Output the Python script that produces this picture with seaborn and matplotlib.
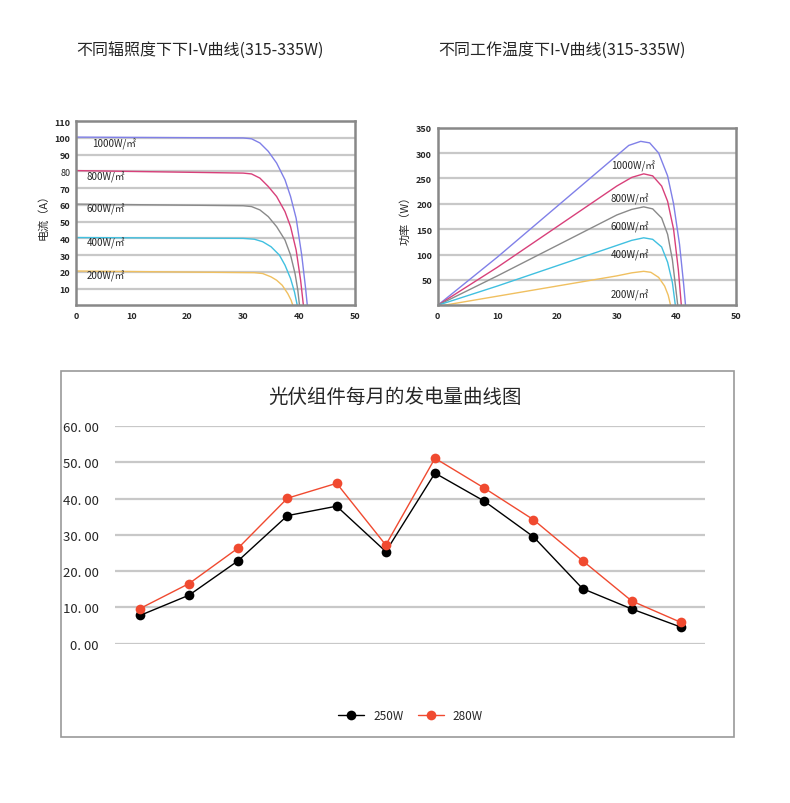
import numpy as np
import pandas as pd
import matplotlib
matplotlib.use("Agg")
import matplotlib.pyplot as plt
import seaborn as sns
from matplotlib.patches import Rectangle

sns.set_style("white")
plt.rcParams['font.family'] = ['Noto Sans CJK SC', 'DejaVu Sans']

# I-V curves, points (voltage, current)
iv_1000_v = [0, 30, 31.5, 33, 34.5, 36, 37.5, 38.5, 39.5, 40.5, 41.2, 41.5]
iv_1000_i = [100.5, 100, 99.5, 97, 92, 85, 75, 65, 52, 30, 10, 0]
iv_800_v = [0, 30, 31.5, 33, 34.5, 36, 37.5, 38.5, 39.5, 40.3, 40.8]
iv_800_i = [80.5, 79, 78.5, 76, 71, 65, 56, 47, 33, 15, 0]
iv_600_v = [0, 30, 31.5, 33, 34.5, 36, 37.5, 38.5, 39.3, 39.8, 40.1]
iv_600_i = [60.5, 59.5, 59, 57, 53, 47, 39, 30, 19, 9, 0]
iv_400_v = [0, 30, 32, 33.5, 35, 36.5, 37.5, 38.5, 39.2, 39.7]
iv_400_i = [40.5, 40, 39.5, 38, 35, 30, 24, 16, 8, 0]
iv_200_v = [0, 32, 33.5, 35, 36, 37, 38, 38.6, 38.9]
iv_200_i = [20.5, 19.5, 19, 17, 15, 12, 7, 3, 0]

# P-V curves (voltage, power)
pv_1000_v = [0, 10, 20, 30, 32, 34, 35.5, 37, 38.5, 39.5, 40.5, 41.2, 41.5]
pv_1000_p = [0, 95, 195, 295, 315, 323, 320, 300, 255, 200, 120, 40, 0]
pv_800_v = [0, 10, 20, 30, 32.5, 34.5, 36, 37.5, 38.5, 39.5, 40.3, 40.8]
pv_800_p = [0, 75, 155, 235, 252, 259, 255, 235, 205, 150, 70, 0]
pv_600_v = [0, 10, 20, 30, 32.5, 34.5, 36, 37.5, 38.5, 39.3, 39.8, 40.2]
pv_600_p = [0, 58, 118, 178, 189, 194, 190, 172, 140, 90, 40, 0]
pv_400_v = [0, 10, 20, 30, 32.5, 34.5, 36, 37.5, 38.5, 39.3, 39.8]
pv_400_p = [0, 38, 78, 118, 128, 133, 130, 115, 85, 45, 0]
pv_200_v = [1, 10, 20, 30, 32.5, 34.5, 35.7, 37, 38, 38.6, 39]
pv_200_p = [0, 18, 38, 58, 64, 67, 65, 55, 38, 20, 0]

irr_labels = ["1000W/㎡", "800W/㎡", "600W/㎡", "400W/㎡", "200W/㎡"]
curve_colors = ["#8080e8", "#d8407a", "#8a8a8a", "#40c0e0", "#f0c060"]

months = list(range(1, 13))
gen_250 = [7.8, 13.4, 22.9, 35.3, 37.9, 25.4, 47.0, 39.3, 29.5, 15.2, 9.6, 4.6]
gen_280 = [9.7, 16.6, 26.4, 40.1, 44.2, 27.2, 51.1, 42.9, 34.2, 22.9, 11.8, 5.9]

fig = plt.figure(figsize=(7.9, 8.04), dpi=100)


def style_small(ax, ymax, ystep):
    for s in ax.spines.values():
        s.set_color("#888888")
        s.set_linewidth(1.8)
    ax.set_xlim(0, 50)
    ax.set_ylim(0, ymax)
    ax.set_xticks([0, 10, 20, 30, 40, 50])
    ax.tick_params(labelsize=6.5, length=0, pad=4)
    for t in ax.get_xticklabels() + ax.get_yticklabels():
        t.set_fontweight("bold")
    for y in np.arange(ystep, ymax, ystep):
        ax.axhline(y, color="#c8c8c8", lw=1.6, zorder=0)
    ax.set_xlabel("")


# --- I-V chart
ax1 = fig.add_axes([0.096, 0.619, 0.353, 0.229])
iv = [(iv_1000_v, iv_1000_i), (iv_800_v, iv_800_i), (iv_600_v, iv_600_i),
      (iv_400_v, iv_400_i), (iv_200_v, iv_200_i)]
for (v, i), c in zip(iv, curve_colors):
    sns.lineplot(x=v, y=i, ax=ax1, color=c, lw=1, sort=False)
style_small(ax1, 110, 10)
ax1.set_yticks(list(range(10, 111, 10)))
ax1.set_ylabel("电流（A）", fontsize=8, labelpad=4)
for lab, y in zip(irr_labels, [95, 75, 56, 36, 16]):
    ax1.text(3 if lab.startswith("1000") else 2, y, lab, fontsize=7)
fig.text(0.096, 0.937, "不同辐照度下下I-V曲线(315-335W)", fontsize=11.5, va="center")

# --- P-V chart
ax2 = fig.add_axes([0.554, 0.619, 0.378, 0.221])
pv = [(pv_1000_v, pv_1000_p), (pv_800_v, pv_800_p), (pv_600_v, pv_600_p),
      (pv_400_v, pv_400_p), (pv_200_v, pv_200_p)]
for (v, p), c in zip(pv, curve_colors):
    sns.lineplot(x=v, y=p, ax=ax2, color=c, lw=1, sort=False)
style_small(ax2, 350, 50)
ax2.set_yticks(list(range(50, 351, 50)))
ax2.set_ylabel("功率（W）", fontsize=8, labelpad=4)
for lab, y in zip(irr_labels, [270, 205, 150, 95, 15]):
    ax2.text(29, y, lab, fontsize=7)
fig.text(0.555, 0.937, "不同工作温度下I-V曲线(315-335W)", fontsize=11.5, va="center")

# --- monthly generation chart
fig.patches.append(Rectangle((0.077, 0.082), 0.852, 0.455, transform=fig.transFigure,
                             fill=False, edgecolor="#999999", lw=1.2))
ax3 = fig.add_axes([0.146, 0.198, 0.747, 0.271])
df = pd.DataFrame({"month": months * 2,
                   "value": gen_250 + gen_280,
                   "series": ["250W"] * 12 + ["280W"] * 12})
sns.lineplot(data=df, x="month", y="value", hue="series", ax=ax3,
             palette={"250W": "#000000", "280W": "#f04a30"},
             marker="o", markersize=7, markeredgewidth=0, lw=1)
ax3.set_xlim(0.5, 12.5)
ax3.set_ylim(0, 60)
ax3.set_yticks(range(0, 61, 10))
ax3.set_yticklabels([f"{v:.2f}".replace(".", ". ") for v in range(0, 61, 10)],
                    fontsize=9.5)
ax3.set_xticks([])
ax3.set_xlabel("")
ax3.set_ylabel("")
for s in ax3.spines.values():
    s.set_visible(False)
ax3.tick_params(axis="y", length=0, pad=12)
for y in range(0, 61, 10):
    ax3.axhline(y, color="#c8c8c8", lw=1.6, zorder=0)
ax3.legend(loc="center", bbox_to_anchor=(0.5, -0.33), ncol=2, frameon=False,
           fontsize=8.5, handlelength=2.2, columnspacing=1.2)
fig.text(0.5, 0.506, "光伏组件每月的发电量曲线图", fontsize=14, ha="center", va="center")

fig.savefig("out.png", dpi=100)
